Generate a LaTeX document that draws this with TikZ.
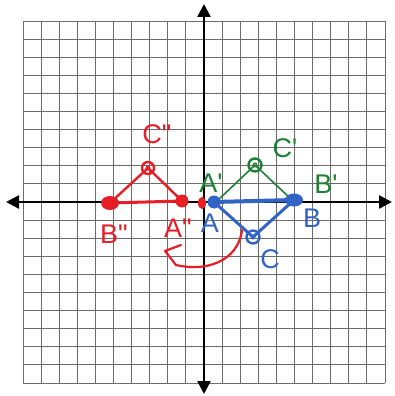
\documentclass[tikz,border=0pt]{standalone}
\usepackage{fontspec}
\setsansfont{Liberation Sans}
\usetikzlibrary{arrows.meta,shapes.geometric}
\definecolor{hred}{RGB}{232,30,38}
\definecolor{hgreen}{RGB}{30,128,50}
\definecolor{hblue}{RGB}{50,100,198}
\begin{document}
\begin{tikzpicture}[x=1pt,y=-1pt,
  gridline/.style={draw=black!58,line width=0.9pt},
  axisline/.style={draw=black,line width=2.4pt,{Triangle[length=13pt,width=13pt]}-{Triangle[length=13pt,width=13pt]}},
  lbl/.style={font=\sffamily\fontsize{27}{27}\selectfont,inner sep=0pt},
  dotr/.style={circle,fill=hred,inner sep=0pt,minimum size=11pt},
  dotb/.style={circle,fill=hblue,inner sep=0pt,minimum size=13pt},
  ring/.style={circle,draw,line width=2.4pt,inner sep=0pt,minimum size=13pt},
  inner/.style={circle,draw,line width=1pt,inner sep=0pt,minimum size=4pt}]
\useasboundingbox (0,0) rectangle (394,396);
\fill[white] (0,0) rectangle (394,396);
% grid
\foreach \i in {0,...,20}{
  \draw[gridline] ({23+18.1*\i},21) -- ({23+18.1*\i},383);
  \draw[gridline] (23,{21+18.1*\i}) -- (385,{21+18.1*\i});
}
% axes
\coordinate (xl) at (6,202);
\coordinate (xr) at (392,202);
\coordinate (yt) at (204,4);
\coordinate (yb) at (204,394);
\draw[axisline] (xl) -- (xr);
\draw[axisline] (yt) -- (yb);
% points
\coordinate (A) at (214,202);
\coordinate (B) at (294,200);
\coordinate (C) at (253,237);
\coordinate (A1) at (216,202);
\coordinate (B1) at (292,200);
\coordinate (C1) at (255,165);
\coordinate (A2) at (182,201);
\coordinate (B2) at (110,203);
\coordinate (C2) at (148,168);
% green triangle
\draw[hgreen,line width=1.6pt] (A1) -- (C1) -- (B1);
% red triangle
\draw[hred,line width=3pt] (B2) -- (A2);
\draw[hred,line width=2.4pt] (B2) -- (C2) -- (A2);
% blue triangle
\draw[hblue,line width=4pt] (A) -- (B);
\draw[hblue,line width=3pt] (B) -- (C) -- (A);
% markers
\node[dotb] (mA) at (A) {};
\node[ellipse,fill=hblue,inner sep=0pt,minimum width=18pt,minimum height=13pt] (mB) at (B) {};
\node[ring,draw=hblue] (mC) at (C) {};
\node[inner,draw=hblue] (iC) at (C) {};
\node[ring,draw=hgreen] (mC1) at (C1) {};
\node[inner,draw=hgreen] (iC1) at (C1) {};
\node[ring,draw=hred,minimum size=12pt] (mC2) at (C2) {};
\node[inner,draw=hred] (iC2) at (C2) {};
\node[dotr,minimum size=13pt] (mA2) at (A2) {};
\node[ellipse,fill=hred,inner sep=0pt,minimum width=18pt,minimum height=14pt] (mB2) at (B2) {};
\node[ellipse,fill=hred,inner sep=0pt,minimum width=8pt,minimum height=12pt] (mO) at (202,203) {};
% curved arrow
\coordinate (r1) at (242,230);
\coordinate (r2) at (176,265);
\coordinate (r3) at (165,251);
\coordinate (r4) at (181,245);
\draw[hred,line width=2.2pt,line join=round,line cap=round] (r1) .. controls (238,262) and (205,272) .. (r2) -- (r3) -- (r4);
% labels
\node[lbl,text=hred] (lC2) at (157,134) {C\textquotedbl};
\node[lbl,text=hred] (lB2) at (114,234) {B\textquotedbl};
\node[lbl,text=hred] (lA2) at (178,228) {A\textquotedbl};
\node[lbl,text=hgreen] (lA1) at (211,183) {A\textquotesingle};
\node[lbl,text=hgreen] (lC1) at (285,148) {C\textquotesingle};
\node[lbl,text=hgreen] (lB1) at (326,184) {B\textquotesingle};
\node[lbl,text=hblue] (lA) at (210,223) {A};
\node[lbl,text=hblue] (lB) at (312,218) {B};
\node[lbl,text=hblue] (lC) at (270,259) {C};
\end{tikzpicture}
\end{document}
